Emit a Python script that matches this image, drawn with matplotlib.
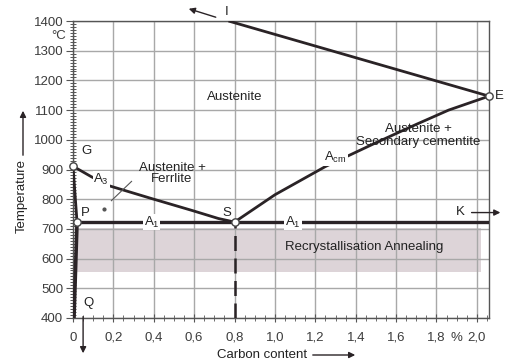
import matplotlib
matplotlib.use("Agg")
import matplotlib.pyplot as plt
from matplotlib.ticker import MultipleLocator

plt.rcParams['font.family'] = ['Liberation Sans', 'DejaVu Sans']
plt.rcParams['mathtext.fontset'] = 'custom'
plt.rcParams['mathtext.rm'] = 'Liberation Sans'
plt.rcParams['mathtext.it'] = 'Liberation Sans:italic'

# phase boundaries (% C, deg C)
gs_x = [0, 0.09, 0.18, 0.39, 0.59, 0.72, 0.8]
gs_t = [911, 876, 845, 802, 762, 735, 723]
es_x = [0.8, 1.0, 1.25, 1.5, 1.7, 1.86, 2.06]
es_t = [723, 815, 910, 990, 1052, 1100, 1147]
ie_x = [0.77, 2.06]
ie_t = [1400, 1147]
gp_x = [0, 0.02]
gp_t = [911, 723]
pq_x = [0.02, 0.005]
pq_t = [723, 400]
psk_x = [0.02, 2.06]
psk_t = [723, 723]

# named points
pt_names = ['G', 'P', 'S', 'E']
pt_x = [0, 0.02, 0.8, 2.06]
pt_t = [911, 723, 723, 1147]

# annealing band
band_x = [0.02, 2.02]
band_t = [555, 704]

xticks = [0, 0.2, 0.4, 0.6, 0.8, 1.0, 1.2, 1.4, 1.6, 1.8, 2.0]
xtick_labels = ['0', '0,2', '0,4', '0,6', '0,8', '1,0', '1,2', '1,4', '1,6', '1,8', '2,0']
yticks = [400, 500, 600, 700, 800, 900, 1000, 1100, 1200, 1300, 1400]

LINE = '#2a2326'
TXT = '#222222'
TICK = '#3c3c3c'

fig = plt.figure(figsize=(5.07, 3.61), dpi=100)
ax = fig.add_axes([73/507, 1-318/361, (489-73)/507, (318-21)/361])
ax.set_xlim(0, 2.06)
ax.set_ylim(400, 1400)

ax.fill_between(band_x, band_t[0], band_t[1], color='#ddd4d8', lw=0, zorder=0.5)

ax.set_xticks(xticks)
ax.set_xticklabels(xtick_labels)
ax.set_yticks(yticks)
ax.xaxis.set_minor_locator(MultipleLocator(0.05))
ax.yaxis.set_minor_locator(MultipleLocator(10))
ax.tick_params(axis='both', which='major', labelsize=9.5, labelcolor=TICK, color='#555555')
ax.tick_params(axis='x', which='major', direction='inout', length=6, pad=7)
ax.tick_params(axis='x', which='minor', direction='inout', length=4, color='#555555')
ax.tick_params(axis='y', which='major', direction='out', length=5, pad=2)
ax.tick_params(axis='y', which='minor', direction='inout', length=4, color='#555555', width=0.7)
for s in ax.spines.values():
    s.set_color('#555555')
    s.set_linewidth(1.0)

ax.grid(True, which='major', color='#a8a8a8', lw=1.0, zorder=1)
ax.set_axisbelow(True)

kw = dict(color=LINE, lw=2.0, zorder=3, solid_capstyle='butt')
ax.plot(gs_x, gs_t, **kw)
ax.plot(es_x, es_t, **kw)
ax.plot(ie_x, ie_t, **kw)
ax.plot(gp_x, gp_t, **kw)
ax.plot(pq_x, pq_t, color=LINE, lw=2.6, zorder=3)
ax.plot(psk_x, psk_t, color=LINE, lw=2.4, zorder=3)
ax.plot([0.8, 0.8], [400, 723], color=LINE, lw=1.8, dashes=(6, 3), zorder=3)

ax.scatter(pt_x, pt_t, s=28, facecolor='white', edgecolor='#444444', lw=1.0, zorder=5, clip_on=False)

lbl = dict(fontsize=9.5, color=TXT, zorder=6)
ax.text(0.04, 951, 'G', **lbl)
ax.text(0.04, 745, 'P', **lbl)
ax.text(0.74, 745, 'S', **lbl)
ax.text(2.09, 1147, 'E', va='center', **lbl)
ax.text(0.05, 450, 'Q', va='center', **lbl)
ax.text(1.94, 757, 'K', ha='right', va='center', **lbl)
ax.text(0.75, 1430, 'I', va='center', **lbl)

onl = dict(fontsize=9.5, color=TXT, ha='center', va='center', zorder=4,
           bbox=dict(facecolor='white', edgecolor='none', pad=0.6))
ax.text(0.14, 866, r'A$_3$', **onl)
ax.text(0.39, 723, r'A$_1$', **onl)
ax.text(1.09, 723, r'A$_1$', **onl)
ax.text(1.30, 940, r'A$_{\rm cm}$', **onl)

ax.text(0.80, 1143, 'Austenite', ha='center', va='center', fontsize=9.5, color=TXT)
ax.text(0.49, 887, 'Austenite +\nFerrlite', ha='center', va='center', fontsize=9.5,
        color=TXT, linespacing=0.95)
ax.text(1.71, 1015, 'Austenite +\nSecondary cementite', ha='center', va='center',
        fontsize=9.5, color=TXT, linespacing=1.15)
ax.text(1.44, 640, 'Recrystallisation Annealing', ha='center', va='center',
        fontsize=9.5, color=TXT)

# leader from "Ferrlite" into the field
ax.plot([0.29, 0.19], [860, 795], color='#555555', lw=0.8, zorder=3)
ax.plot([0.155], [768], marker='o', ms=2, color='#555555', zorder=3)

arr = dict(arrowstyle='-|>', color=LINE, lw=1.0, mutation_scale=9)
ax.annotate('', xy=(0.56, 1444), xytext=(0.72, 1410), arrowprops=arr, annotation_clip=False)
ax.annotate('', xy=(2.13, 755), xytext=(1.96, 755), arrowprops=arr, annotation_clip=False)
ax.annotate('', xy=(0.05, 272), xytext=(0.05, 414), arrowprops=arr, annotation_clip=False)

# "%" sits between the 1,8 and 2,0 tick labels
ax.text(1.9, 331, '%', ha='center', va='center', fontsize=9.5, color=TICK, clip_on=False)
ax.text(-0.035, 1350, '°C', ha='right', va='center', fontsize=9.5, color=TICK)

fig.text(262/507, 1-355/361, 'Carbon content', ha='center', va='center', fontsize=9.5, color=TXT)
fig.text(22/507, 1-196/361, 'Temperature', ha='center', va='center', rotation=90, fontsize=9.5, color=TXT)
ax.annotate('', xy=(358/507, 1-355/361), xytext=(310/507, 1-355/361), xycoords='figure fraction',
            textcoords='figure fraction', arrowprops=arr)
ax.annotate('', xy=(23/507, 1-108/361), xytext=(23/507, 1-158/361), xycoords='figure fraction',
            textcoords='figure fraction', arrowprops=arr)

fig.savefig('out.png', dpi=100)
